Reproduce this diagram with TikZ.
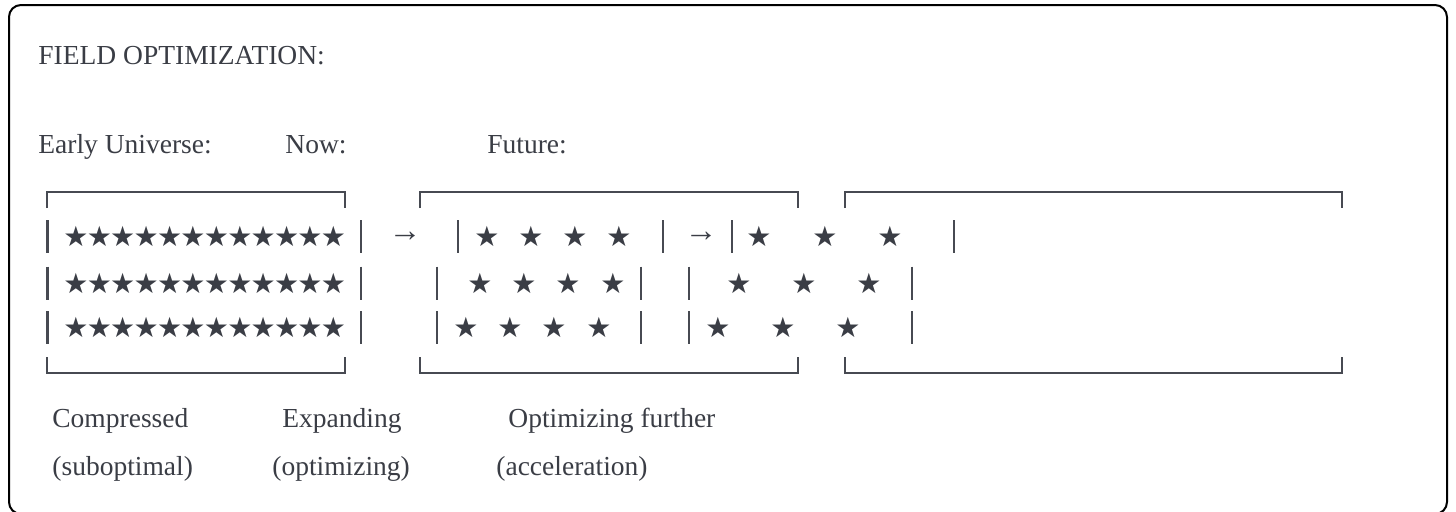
\documentclass[tikz,border=0pt]{standalone}
\usepackage{fontspec}
\setmainfont{Liberation Serif}
\newfontfamily\starfont{DejaVu Sans}
\definecolor{ink}{HTML}{3A3D45}
\definecolor{rulegray}{HTML}{474A52}
\tikzset{
	lbl/.style={anchor=base west,inner sep=0pt,text=ink,font=\fontsize{13.75}{16}\selectfont},
	st/.style={inner sep=0pt,text=ink,font=\starfont\fontsize{14}{16}\selectfont},
	arr/.style={inner sep=0pt,text=ink,font=\fontsize{16.5}{18}\selectfont},
	bar/.style={draw=rulegray,line width=1.1pt}
}
\begin{document}
\begin{tikzpicture}[x=0.5pt,y=-0.5pt]
	\useasboundingbox (0,0) rectangle (1456,511);
	\draw[line width=1pt,rounded corners=6pt] (9,5) rectangle (1447,514);
	% headings
	\node[lbl] (title) at (38,64) {FIELD OPTIMIZATION:};
	\node[lbl] (early) at (38,153) {Early Universe:};
	\node[lbl] (now) at (285,153) {Now:};
	\node[lbl] (future) at (487,153) {Future:};
	% brackets of the three boxes
	\foreach \l/\r in {47/345,420/798,845/1342} {
		\draw[bar] (\l,208) -- (\l,192) -- (\r,192) -- (\r,208);
		\draw[bar] (\l,357) -- (\l,373) -- (\r,373) -- (\r,357);
	}
	% vertical bars
	\foreach \x/\y in {47.5/236.5,361/236.5,458/236.5,663/236.5,732/236.5,954/236.5,
		47.5/283,361/283,437/283,641/283,689/283,912/283,
		47.5/327.5,361/327.5,437/327.5,641/327.5,689/327.5,912/327.5}
		\draw[bar] (\x,\y-16.5) -- (\x,\y+16.5);
	% compressed field
	\foreach \y in {236.5,283,327.5}
		\foreach \i in {0,...,11}
			\node[st] at (76+23.4*\i,\y) {★};
	% expanding field
	\foreach \x in {487,531,575,619} \node[st] at (\x,236.5) {★};
	\foreach \x in {480,524,568,613} \node[st] at (\x,283) {★};
	\foreach \x in {466,510,554,599} \node[st] at (\x,327.5) {★};
	% further field
	\foreach \x in {759,825,890} \node[st] at (\x,236.5) {★};
	\foreach \x in {739,804,869} \node[st] at (\x,283) {★};
	\foreach \x in {718,783,848} \node[st] at (\x,327.5) {★};
	% arrows between stages
	\node[arr] (a1) at (405,236.5) {→};
	\node[arr] (a2) at (701,236.5) {→};
	% captions
	\node[lbl] (cmp) at (52,427) {Compressed};
	\node[lbl] (exp) at (282,427) {Expanding};
	\node[lbl] (opt) at (508,427) {Optimizing further};
	\node[lbl] (subopt) at (52,475) {(suboptimal)};
	\node[lbl] (optz) at (272,475) {(optimizing)};
	\node[lbl] (acc) at (496,475) {(acceleration)};
\end{tikzpicture}
\end{document}
